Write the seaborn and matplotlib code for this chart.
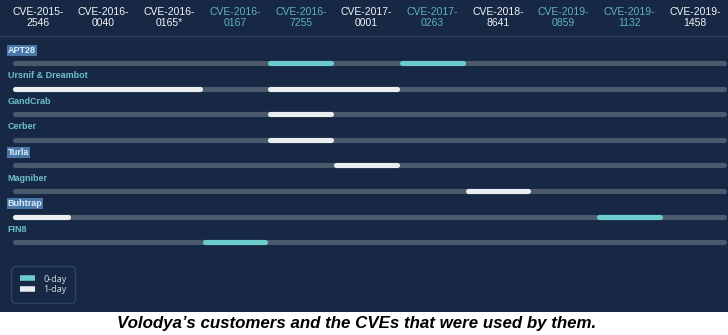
import numpy as np
import pandas as pd
import matplotlib
matplotlib.use("Agg")
import matplotlib.pyplot as plt
from matplotlib.lines import Line2D
import seaborn as sns

# ---- data -------------------------------------------------------------
cve_ids = ["CVE-2015-2546", "CVE-2016-0040", "CVE-2016-0165*", "CVE-2016-0167",
           "CVE-2016-7255", "CVE-2017-0001", "CVE-2017-0263", "CVE-2018-8641",
           "CVE-2019-0859", "CVE-2019-1132", "CVE-2019-1458"]
cve_kind = ["1-day", "1-day", "1-day", "0-day", "0-day", "1-day", "0-day",
            "1-day", "0-day", "0-day", "1-day"]

groups = ["APT28", "Ursnif & Dreambot", "GandCrab", "Cerber", "Turla",
          "Magniber", "Buhtrap", "FIN8"]
highlighted = ["APT28", "Turla", "Buhtrap"]

zero_day = {
    "APT28": ["CVE-2016-7255", "CVE-2017-0263"],
    "Buhtrap": ["CVE-2019-1132"],
    "FIN8": ["CVE-2016-0167"],
}
one_day = {
    "Ursnif & Dreambot": ["CVE-2015-2546", "CVE-2016-0040", "CVE-2016-0165*",
                          "CVE-2016-7255", "CVE-2017-0001"],
    "GandCrab": ["CVE-2016-7255"],
    "Cerber": ["CVE-2016-7255"],
    "Turla": ["CVE-2017-0001"],
    "Magniber": ["CVE-2018-8641"],
    "Buhtrap": ["CVE-2015-2546"],
}

# ---- colours ----------------------------------------------------------
BG = "#172845"
TRACK = "#4b596d"
CYAN = "#6ccccc"
WHITE = "#e9edf0"
TEAL_TEXT = "#5fb3ba"
GROUP_TEXT = "#6cbfc8"
RULE = "#2a3d5c"

sns.set_theme(style="white")
plt.rcParams["font.family"] = ["Liberation Sans", "DejaVu Sans"]

# ---- geometry (figure pixels -> data units) ---------------------------
W, H = 728, 335
col_px = 723 / len(cve_ids)     # width of one CVE column
col0_px = 5                     # left edge of the first column
track_lo = (12 - col0_px) / col_px
track_hi = (726 - col0_px) / col_px
cap = 2.5 / col_px              # round caps reach past the line ends

# ---- build segments (merge consecutive CVE columns) ------------------
rows = []
seg_id = 0
for kind, table in (("0-day", zero_day), ("1-day", one_day)):
    for g, ids in table.items():
        cols = sorted(cve_ids.index(c) for c in ids)
        runs = []
        for c in cols:
            if runs and c == runs[-1][1]:
                runs[-1][1] = c + 1
            else:
                runs.append([c, c + 1])
        for a, b in runs:
            r = groups.index(g)
            lo = max(a, track_lo) + cap
            hi = min(b, track_hi) - cap
            rows.append(dict(x=lo, row=r, seg=seg_id, kind=kind))
            rows.append(dict(x=hi, row=r, seg=seg_id, kind=kind))
            seg_id += 1
bars = pd.DataFrame(rows)

tracks = pd.DataFrame(
    [dict(x=x, row=r, seg=r) for r in range(len(groups))
     for x in (track_lo + cap, track_hi - cap)]
)

# ---- figure -----------------------------------------------------------
fig = plt.figure(figsize=(W / 100, H / 100), dpi=100, facecolor="white")
panel_px = 312
ax = fig.add_axes([0, 1 - panel_px / H, 1, panel_px / H])
ax.set_facecolor(BG)

ax.set_xlim(-col0_px / col_px, (W - col0_px) / col_px)
row_px = 25.6
top = -63 / row_px
ax.set_ylim(top + panel_px / row_px, top)

lw = 3.7
sns.lineplot(data=tracks, x="x", y="row", units="seg", estimator=None,
             sort=False, color=TRACK, linewidth=lw, solid_capstyle="round",
             ax=ax, legend=False, zorder=2)
sns.lineplot(data=bars, x="x", y="row", units="seg", hue="kind",
             palette={"0-day": CYAN, "1-day": WHITE}, estimator=None,
             sort=False, linewidth=lw, solid_capstyle="round", ax=ax,
             legend=False, zorder=3)

# header with CVE ids
for i, (cid, k) in enumerate(zip(cve_ids, cve_kind)):
    head, tail = cid.rsplit("-", 1)
    ax.text(i + 0.5, -1.77, f"{head}-\n{tail}", ha="center",
            va="center", fontsize=7.5, linespacing=1.08,
            color=TEAL_TEXT if k == "0-day" else "#f2f4f6")
ax.axhline(-1.06, color=RULE, lw=1.0)

# group names above each track
for r, g in enumerate(groups):
    kw = dict(ha="left", va="center", fontsize=6.5, fontweight="bold")
    if g in highlighted:
        ax.text(0.04, r - 0.5, g, color="#d6ecfa",
                bbox=dict(boxstyle="square,pad=0.12", fc="#4a76a6", ec="none"),
                **kw)
    else:
        ax.text(0.04, r - 0.5, g, color=GROUP_TEXT, **kw)

ax.set_xlabel("")
ax.set_ylabel("")
ax.set_xticks([])
ax.set_yticks([])
for s in ax.spines.values():
    s.set_visible(False)

# legend
handles = [Line2D([], [], color=CYAN, lw=4.0, solid_capstyle="butt"),
           Line2D([], [], color=WHITE, lw=4.0, solid_capstyle="butt")]
leg = fig.legend(handles, ["0-day", "1-day"], loc="lower left",
                 bbox_to_anchor=(11 / W, 32 / H), bbox_transform=fig.transFigure,
                 borderaxespad=0, handlelength=1.75, handletextpad=0.9,
                 labelspacing=0.2, borderpad=0.95, frameon=True,
                 prop=dict(family="Noto Sans", size=6.5),
                 facecolor=BG, edgecolor="#34496a", labelcolor="#c9d1da")
leg.get_frame().set_linewidth(1.0)
leg.get_frame().set_boxstyle("round,pad=0,rounding_size=0.5")

fig.text(0.49, 11.5 / H,
         "Volodya\u2019s customers and the CVEs that were used by them.",
         ha="center", va="center", fontsize=12.2, fontweight="bold",
         fontstyle="italic", color="black")

fig.savefig("out.png", dpi=100, facecolor="white")
